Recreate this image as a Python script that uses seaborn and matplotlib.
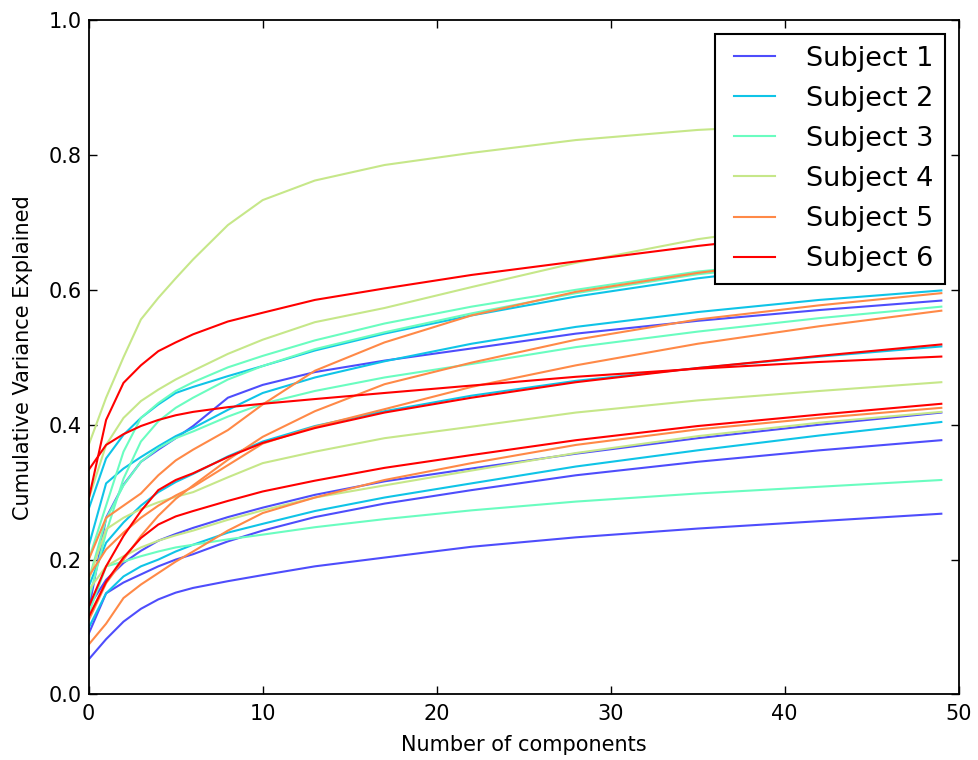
import numpy as np
import pandas as pd
import matplotlib
matplotlib.use("Agg")
import matplotlib.pyplot as plt
import seaborn as sns
from matplotlib.lines import Line2D
from matplotlib.legend_handler import HandlerLine2D

# Component indices at which the cumulative explained variance is recorded
components = [0, 1, 2, 3, 4, 5, 6, 8, 10, 13, 17, 22, 28, 35, 42, 49]

subjects = ["Subject 1", "Subject 2", "Subject 3", "Subject 4", "Subject 5", "Subject 6"]

# Four runs per subject: cumulative variance explained at each component index
subject_1 = [
    [0.052, 0.082, 0.108, 0.127, 0.141, 0.151, 0.158, 0.168, 0.177, 0.190, 0.203, 0.219, 0.233, 0.246, 0.257, 0.268],
    [0.090, 0.150, 0.166, 0.178, 0.190, 0.200, 0.208, 0.227, 0.243, 0.263, 0.283, 0.303, 0.325, 0.345, 0.362, 0.377],
    [0.130, 0.170, 0.195, 0.213, 0.228, 0.238, 0.247, 0.263, 0.277, 0.296, 0.316, 0.335, 0.357, 0.380, 0.400, 0.418],
    [0.125, 0.262, 0.311, 0.345, 0.363, 0.380, 0.398, 0.440, 0.459, 0.478, 0.495, 0.513, 0.535, 0.554, 0.570, 0.584],
]
subject_2 = [
    [0.275, 0.350, 0.385, 0.410, 0.430, 0.447, 0.456, 0.472, 0.487, 0.510, 0.535, 0.562, 0.590, 0.617, 0.638, 0.655],
    [0.220, 0.313, 0.335, 0.352, 0.368, 0.383, 0.395, 0.422, 0.447, 0.470, 0.494, 0.520, 0.545, 0.567, 0.585, 0.599],
    [0.160, 0.225, 0.255, 0.280, 0.300, 0.315, 0.327, 0.353, 0.375, 0.398, 0.420, 0.443, 0.465, 0.484, 0.501, 0.516],
    [0.099, 0.150, 0.175, 0.190, 0.200, 0.212, 0.222, 0.240, 0.253, 0.272, 0.292, 0.313, 0.338, 0.362, 0.384, 0.404],
]
subject_3 = [
    [0.200, 0.280, 0.360, 0.410, 0.432, 0.450, 0.463, 0.485, 0.502, 0.525, 0.550, 0.575, 0.600, 0.627, 0.645, 0.660],
    [0.140, 0.240, 0.320, 0.375, 0.405, 0.425, 0.440, 0.467, 0.487, 0.512, 0.537, 0.565, 0.595, 0.623, 0.642, 0.655],
    [0.170, 0.260, 0.310, 0.345, 0.365, 0.380, 0.390, 0.412, 0.431, 0.450, 0.470, 0.490, 0.515, 0.538, 0.558, 0.575],
    [0.120, 0.190, 0.197, 0.205, 0.212, 0.218, 0.222, 0.230, 0.237, 0.248, 0.260, 0.273, 0.286, 0.298, 0.308, 0.318],
]
subject_4 = [
    [0.370, 0.440, 0.500, 0.556, 0.588, 0.617, 0.645, 0.696, 0.733, 0.762, 0.785, 0.803, 0.822, 0.837, 0.846, 0.853],
    [0.290, 0.370, 0.410, 0.435, 0.452, 0.467, 0.480, 0.505, 0.526, 0.552, 0.573, 0.604, 0.640, 0.675, 0.700, 0.720],
    [0.170, 0.245, 0.262, 0.275, 0.285, 0.293, 0.300, 0.322, 0.343, 0.360, 0.380, 0.397, 0.418, 0.436, 0.450, 0.463],
    [0.155, 0.190, 0.205, 0.218, 0.228, 0.236, 0.243, 0.259, 0.273, 0.292, 0.310, 0.332, 0.358, 0.383, 0.403, 0.419],
]
subject_5 = [
    [0.200, 0.262, 0.280, 0.298, 0.325, 0.347, 0.363, 0.392, 0.430, 0.480, 0.522, 0.562, 0.597, 0.625, 0.648, 0.668],
    [0.110, 0.165, 0.200, 0.235, 0.265, 0.290, 0.310, 0.348, 0.382, 0.420, 0.460, 0.492, 0.526, 0.556, 0.577, 0.595],
    [0.175, 0.215, 0.240, 0.262, 0.280, 0.295, 0.308, 0.340, 0.372, 0.397, 0.423, 0.456, 0.488, 0.520, 0.546, 0.569],
    [0.074, 0.105, 0.143, 0.163, 0.180, 0.197, 0.212, 0.243, 0.269, 0.292, 0.318, 0.343, 0.370, 0.393, 0.410, 0.425],
]
subject_6 = [
    [0.290, 0.407, 0.462, 0.488, 0.509, 0.522, 0.534, 0.553, 0.566, 0.585, 0.602, 0.622, 0.642, 0.665, 0.685, 0.700],
    [0.333, 0.370, 0.386, 0.398, 0.407, 0.414, 0.419, 0.426, 0.431, 0.438, 0.447, 0.458, 0.471, 0.483, 0.493, 0.501],
    [0.130, 0.190, 0.235, 0.272, 0.303, 0.318, 0.328, 0.352, 0.373, 0.395, 0.418, 0.440, 0.463, 0.484, 0.502, 0.519],
    [0.115, 0.167, 0.203, 0.232, 0.252, 0.264, 0.272, 0.287, 0.301, 0.317, 0.336, 0.355, 0.377, 0.398, 0.415, 0.431],
]

x_ticks = [0, 10, 20, 30, 40, 50]
y_ticks = [0.0, 0.2, 0.4, 0.6, 0.8, 1.0]

# Long-form table: one row per (run, component)
rows = []
for name, runs in zip(subjects, [subject_1, subject_2, subject_3, subject_4, subject_5, subject_6]):
    for r, vals in enumerate(runs):
        for c, v in zip(components, vals):
            rows.append((c, v, name, f"{name} run {r + 1}"))
df = pd.DataFrame(rows, columns=["component", "variance", "subject", "run"])

plt.rcParams.update({
    "font.family": ["DejaVu Sans"],
    "xtick.direction": "in",
    "ytick.direction": "in",
    "xtick.top": True,
    "ytick.right": True,
    "xtick.major.size": 5.5,
    "ytick.major.size": 5.5,
    "xtick.major.width": 1.0,
    "ytick.major.width": 1.0,
    "xtick.major.pad": 7,
    "ytick.major.pad": 5,
    "axes.linewidth": 1.3,
})

fig = plt.figure(figsize=(9.79, 7.6), dpi=100)
ax = fig.add_axes([0.0906, 0.0862, 0.8887, 0.8875])

colors = [tuple(c) for c in plt.cm.rainbow(np.linspace(0.1, 1.0, 6))]

sns.lineplot(data=df, x="component", y="variance", hue="subject", units="run",
             estimator=None, palette=colors, linewidth=1.5, legend=False, ax=ax)

ax.set_xlim(0, 50)
ax.set_ylim(0, 1)
ax.set_xticks(x_ticks)
ax.set_yticks(y_ticks)
ax.set_xticklabels([str(t) for t in x_ticks])
ax.set_yticklabels([f"{t:.1f}" for t in y_ticks])
ax.tick_params(labelsize=15)
ax.set_xlabel("Number of components", fontsize=15, labelpad=8)
ax.set_ylabel("Cumulative Variance Explained", fontsize=15, labelpad=11)

handles = [Line2D([], [], color=c, linewidth=1.5) for c in colors]
leg = ax.legend(handles, subjects, loc="upper right", fontsize=19.5,
                fancybox=False, framealpha=1.0, edgecolor="black",
                borderaxespad=0.5, borderpad=0.45, handlelength=1.77,
                handletextpad=1.14, labelspacing=0.52,
                handler_map={Line2D: HandlerLine2D(xpad=0.26)})
leg.get_frame().set_linewidth(1.5)

fig.savefig("out.png", dpi=100)
